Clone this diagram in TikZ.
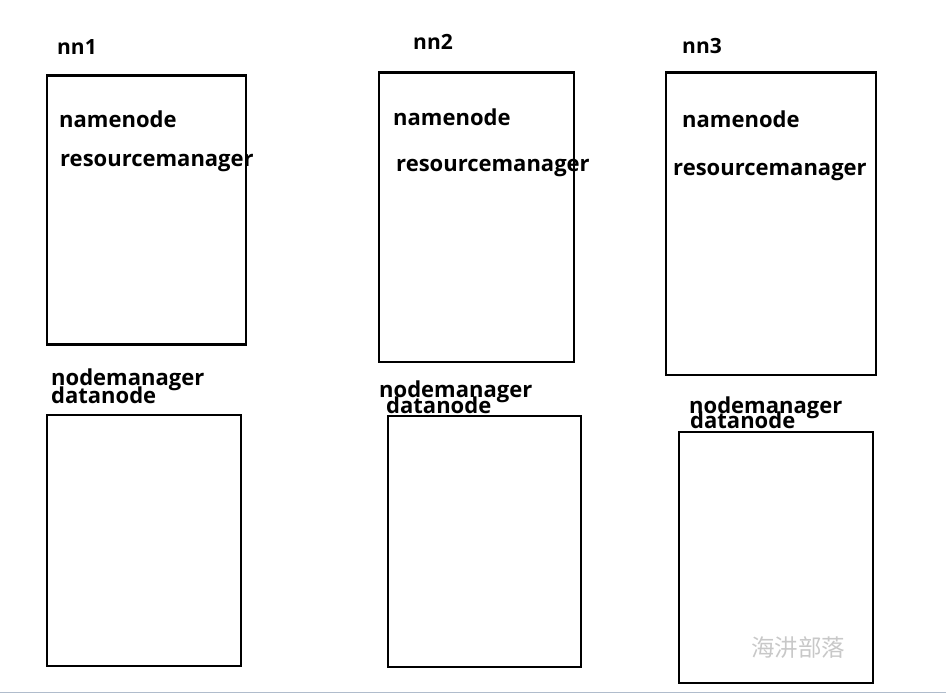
\documentclass[tikz,border=0pt]{standalone}
\usepackage{fontspec}
\setmainfont{Open Sans}
\newfontfamily\cjk{Noto Sans CJK SC}
\usepackage{tikz}
\usetikzlibrary{positioning}
\definecolor{mark_gray}{HTML}{C8C8C8}
\definecolor{rule_blue}{HTML}{B0BCCC}

\begin{document}
\begin{tikzpicture}[
        x=1pt, y=-1pt,
        server/.style={rectangle, draw=black, line width=2.8pt, anchor=north west, inner sep=0pt},
        host/.style={anchor=base west, inner sep=0pt, font=\bfseries\fontsize{21}{21}\selectfont},
        role/.style={anchor=base west, inner sep=0pt, font=\bfseries\fontsize{22}{22}\selectfont},
    ]
        \useasboundingbox (0,0) rectangle (946,695);

        % Upper servers
        \node[server, minimum width=199pt, minimum height=269pt] (nn1box) at (45.5,74.5) {};
        \node[server, minimum width=195pt, minimum height=289pt] (nn2box) at (377.5,71.5) {};
        \node[server, minimum width=210pt, minimum height=302pt] (nn3box) at (664.5,71.5) {};

        % Lower servers
        \node[server, minimum width=194pt, minimum height=251pt] (dn1box) at (45.5,413.5) {};
        \node[server, minimum width=193pt, minimum height=251pt] (dn2box) at (386.5,414.5) {};
        \node[server, minimum width=194pt, minimum height=251pt] (dn3box) at (677.5,430.5) {};

        % Host names
        \node[host] (nn1) at (57,55) {nn1};
        \node[host] (nn2) at (413,50) {nn2};
        \node[host] (nn3) at (682,54) {nn3};

        % Roles on nn hosts
        \node[role] (nn1_nn) at (59,128) {namenode};
        \node[role] (nn1_rm) at (60,167) {resourcemanager};
        \node[role] (nn2_nn) at (393,126) {namenode};
        \node[role] (nn2_rm) at (396,172) {resourcemanager};
        \node[role] (nn3_nn) at (682,128) {namenode};
        \node[role] (nn3_rm) at (673,176) {resourcemanager};

        % Roles on worker hosts
        \node[role] (dn1_nm) at (51,385) {nodemanager};
        \node[role] (dn1_dn) at (51,403) {datanode};
        \node[role] (dn2_nm) at (379,397) {nodemanager};
        \node[role] (dn2_dn) at (386,413) {datanode};
        \node[role] (dn3_nm) at (689,413) {nodemanager};
        \node[role] (dn3_dn) at (690,428) {datanode};

        % Watermark
        \node[anchor=base west, inner sep=0pt, font=\cjk\fontsize{23.5}{23.5}\selectfont, text=mark_gray] (mark) at (751,656) {海汫部落};

        % Bottom rule
        \coordinate (rule_l) at (0,692.5);
        \coordinate (rule_r) at (946,692.5);
        \draw[rule_blue, line width=1.5pt] (rule_l) -- (rule_r);
    \end{tikzpicture}
\end{document}
